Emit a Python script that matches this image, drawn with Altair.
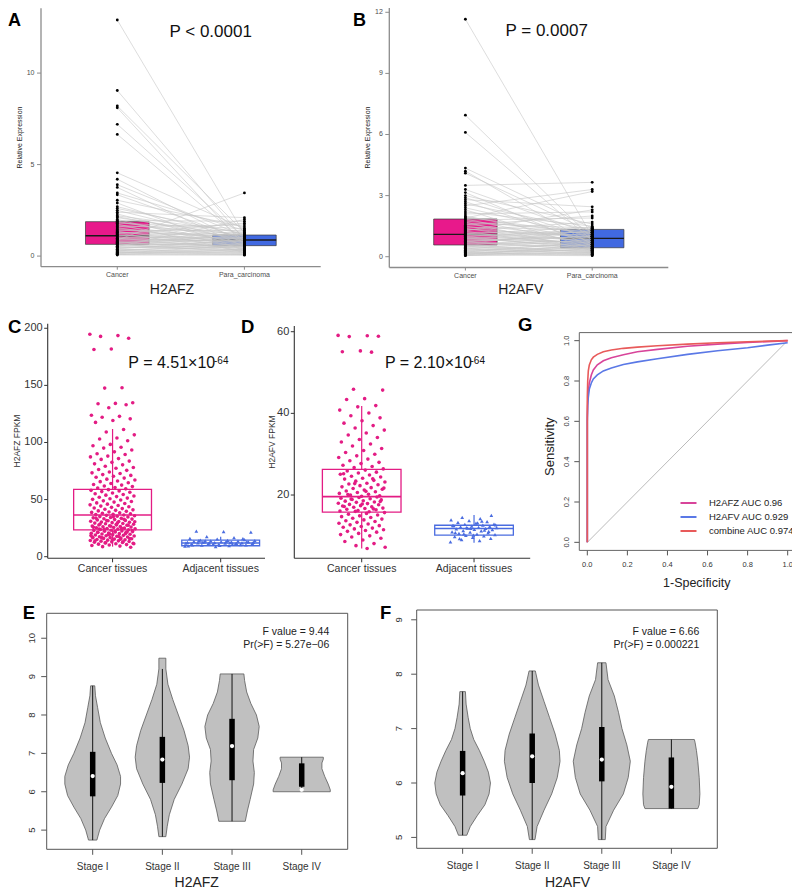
import altair as alt
import pandas as pd

FONT = "Liberation Sans"
W, H = 784, 880

# ---------------- data: panel A (H2AFZ, paired qPCR) ----------------
A_CANCER = [12.9, 9.05, 8.2, 8.1, 7.2, 6.65, 4.55, 4.2, 3.9, 3.75,
            3.45, 3.35, 3.05, 2.9, 2.7, 2.6, 2.5, 2.4, 2.3, 2.2,
            2.15, 2.1, 2.0, 1.95, 1.9, 1.85, 1.8, 1.75, 1.7, 1.65,
            1.6, 1.55, 1.5, 1.45, 1.4, 1.35, 1.3, 1.25, 1.2, 1.15,
            1.12, 1.1, 1.05, 1.0, 0.98, 0.95, 0.9, 0.88, 0.85, 0.8,
            0.78, 0.75, 0.72, 0.7, 0.66, 0.64, 0.6, 0.57, 0.54, 0.5,
            0.47, 0.44, 0.4, 0.37, 0.34, 0.31, 0.28, 0.25, 0.22, 0.2,
            0.18, 0.15, 0.13, 0.1, 0.08, 0.06, 0.52, 0.93, 1.32, 0.71]
A_PARA = [1.2, 0.9, 1.3, 0.6, 1.0, 0.8, 1.5, 0.7, 1.1, 0.5,
          1.4, 0.9, 1.6, 0.3, 1.0, 1.2, 0.8, 2.1, 0.6, 1.3,
          0.9, 1.1, 0.4, 1.9, 0.7, 1.0, 1.5, 0.2, 1.2, 0.8,
          1.7, 0.6, 1.0, 0.9, 1.4, 0.5, 1.1, 0.3, 1.8, 0.7,
          0.95, 1.3, 0.6, 1.0, 0.4, 1.2, 0.8, 3.45, 0.5, 1.05,
          0.3, 0.9, 0.7, 1.15, 0.2, 0.6, 1.0, 0.45, 0.8, 0.35,
          0.65, 0.55, 0.9, 0.25, 0.5, 0.15, 0.7, 0.4, 0.1, 0.3,
          0.2, 0.6, 0.12, 0.08, 0.35, 0.05, 2.0, 0.85, 0.75, 0.55]
A_Q1 = [0.64, 0.57]
A_MED = [1.11, 0.88]
A_Q3 = [1.88, 1.15]
A_YTICKS = [0, 5, 10]

# ---------------- data: panel B (H2AFV, paired qPCR) ----------------
B_CANCER = [11.66, 6.95, 6.1, 4.35, 4.2, 4.1, 3.5, 3.3, 3.15, 3.0,
            2.9, 2.8, 2.7, 2.6, 2.5, 2.4, 2.3, 2.2, 2.1, 2.0,
            1.95, 1.9, 1.85, 1.8, 1.75, 1.7, 1.65, 1.6, 1.55, 1.5,
            1.45, 1.4, 1.35, 1.3, 1.25, 1.2, 1.15, 1.12, 1.1, 1.05,
            1.0, 0.97, 0.94, 0.9, 0.87, 0.84, 0.8, 0.77, 0.74, 0.7,
            0.67, 0.64, 0.6, 0.58, 0.55, 0.52, 0.5, 0.47, 0.44, 0.41,
            0.38, 0.35, 0.32, 0.3, 0.27, 0.24, 0.22, 0.2, 0.18, 0.16,
            0.14, 0.12, 0.1, 0.08, 0.06, 0.05, 1.08, 0.92, 1.28, 0.76]
B_PARA = [1.0, 0.9, 0.8, 1.4, 0.6, 1.2, 3.65, 1.1, 0.5, 1.6,
          0.9, 2.45, 0.7, 1.3, 3.3, 1.0, 0.4, 1.5, 2.2, 0.8,
          1.1, 3.2, 0.6, 1.9, 1.2, 0.3, 1.4, 0.9, 2.0, 0.7,
          1.3, 0.5, 1.0, 1.7, 0.4, 1.2, 0.8, 1.45, 0.6, 1.1,
          0.35, 1.35, 0.9, 0.5, 1.25, 0.7, 1.0, 0.3, 1.15, 0.6,
          0.45, 1.3, 0.8, 0.2, 1.05, 0.55, 0.25, 0.95, 0.4, 0.15,
          0.85, 0.3, 0.65, 0.2, 0.5, 0.1, 0.75, 0.35, 0.12, 0.45,
          0.08, 0.25, 0.6, 0.05, 0.18, 0.4, 1.2, 0.7, 2.3, 1.0]
B_Q1 = [0.575, 0.44]
B_MED = [1.10, 0.90]
B_Q3 = [1.85, 1.34]
B_YTICKS = [0, 3, 6, 9, 12]
AB_GROUPS = ["Cancer", "Para_carcinoma"]

# ---------------- data: panel C (H2AFZ FPKM) ----------------
C_CANCER = [194.8, 193.6, 192.9, 191.2, 181.9, 181.4, 147.9, 147.6, 134.8, 134.2,
            133.9, 133.1, 130.4, 123.8, 122.9, 122.1, 120.7, 119.3, 117.6,
            111.4, 109.2, 106.7, 103.9, 103.1, 101.5, 98.3, 97.2, 95.8, 95.1,
            93.4, 91.8, 90.2, 89.5, 88.1, 87.4, 85.9, 85.2, 83.7, 82.6, 81.3, 80.4,
            79.2, 78.1, 77.5, 76.3, 75.6, 74.2, 73.4, 72.8, 71.9, 71.2, 70.5, 69.6,
            68.8, 67.9, 67.1, 66.3, 65.7, 64.8, 64.1, 63.2, 62.7, 61.9, 61.4, 60.6, 60.1,
            59.4, 58.7, 58.1, 57.6, 57.0, 56.4, 55.8, 55.1, 54.5, 53.9, 53.2, 52.6, 52.0,
            51.3, 50.7, 50.2, 49.6, 48.9, 48.3, 47.8, 47.1, 46.6, 46.0, 45.4, 44.8, 44.3,
            43.7, 43.2, 42.6, 42.1, 41.5, 41.0, 40.6, 40.1, 39.7, 39.2, 38.8, 38.4, 38.0,
            37.6, 37.2, 36.9, 36.5, 36.2,
            35.8, 35.4, 35.1, 34.7, 34.3, 34.0, 33.6, 33.2, 32.9, 32.5, 32.2, 31.8, 31.5,
            31.1, 30.8, 30.4, 30.1, 29.8, 29.4, 29.1, 28.8, 28.4, 28.1, 27.8, 27.5, 27.1,
            26.8, 26.5, 26.2, 25.9, 25.6, 25.3, 25.0, 24.7, 24.4, 24.1, 23.8, 23.5, 23.2, 22.9,
            22.6, 22.3, 22.0, 21.7, 21.4, 21.1, 20.8, 20.5, 20.2, 19.9, 19.6, 19.3, 19.0,
            18.7, 18.4, 18.1, 17.8, 17.5, 17.2, 16.9, 16.6, 16.3, 16.0, 15.7, 15.4, 15.1,
            14.8, 14.5, 14.2, 13.9, 13.6, 13.3, 13.0, 12.7, 12.4, 12.1, 11.8, 11.4, 11.0,
            10.6, 10.2, 9.8, 9.3, 8.8, 8.3,
            34.9, 33.8, 32.7, 31.6, 30.6, 29.6, 28.6, 27.6, 26.6, 25.7, 24.8, 23.9, 23.0,
            22.1, 21.2, 20.3, 19.4, 18.5, 17.6, 16.7, 15.8, 14.9, 14.0, 13.1, 12.2, 11.3,
            27.9, 24.3, 21.9, 19.8, 17.1, 15.3]
C_ADJ = [9.2, 9.6, 10.1, 10.4, 10.8, 11.0, 11.3, 11.5, 11.7, 11.9, 12.0, 12.2, 12.4,
         12.5, 12.7, 12.9, 13.0, 13.2, 13.4, 13.6, 13.8, 14.0, 14.3, 14.6, 15.0, 15.5,
         16.1, 16.8, 17.5, 21.5, 22.0, 22.4, 10.6, 11.2, 11.8, 12.3, 12.8, 13.3, 9.9,
         10.3, 11.6, 12.1, 12.6, 13.1, 14.1, 15.8, 8.9, 9.5, 10.9, 13.9]
C_LOW = [8.8, 8.9]
C_Q1 = [23.4, 9.6]
C_MED = [36.5, 12.0]
C_Q3 = [59.0, 14.6]
C_HIGH = [111.8, 17.5]
C_YTICKS = [0, 50, 100, 150, 200]
CD_GROUPS = ["Cancer tissues", "Adjacent tissues"]

# ---------------- data: panel D (H2AFV FPKM) ----------------
D_CANCER = [59.1, 59.0, 58.8, 58.9, 55.3, 55.1, 55.0, 45.9, 45.7, 43.6, 43.4,
            41.9, 41.6, 40.8, 40.1, 39.4, 38.9, 38.2, 37.6, 37.0, 36.4, 35.9, 35.2,
            34.7, 34.1, 33.6, 33.0, 32.5, 32.0, 31.4, 30.9, 30.4, 30.0,
            29.6, 29.2, 28.8, 28.4, 28.0, 27.7, 27.3, 27.0, 26.7, 26.4,
            26.1, 25.9, 25.6, 25.4, 25.1, 24.9, 24.6, 24.4, 24.1, 23.9, 23.6, 23.4,
            23.2, 22.9, 22.7, 22.5, 22.3, 22.0, 21.8, 21.6, 21.4, 21.2, 21.0, 20.8,
            20.6, 20.4, 20.2, 20.0, 19.8, 19.7, 25.2, 24.0, 22.8, 21.7, 20.9, 20.1,
            19.5, 19.4, 19.2, 19.1, 18.9, 18.8, 18.6, 18.5, 18.3, 18.2, 18.0, 17.9,
            17.7, 17.6, 17.4, 17.3, 17.1, 17.0, 16.8, 16.7, 16.5, 16.4, 16.2, 16.1,
            15.9, 19.0, 18.4, 17.8, 17.2, 16.6, 16.0,
            15.7, 15.5, 15.3, 15.1, 14.9, 14.7, 14.5, 14.3, 14.1, 13.9, 13.7, 13.5,
            13.3, 13.1, 12.9, 12.7, 12.5, 12.3, 12.1, 11.9, 11.7, 11.5, 11.3, 11.1,
            10.9, 10.6, 10.3, 10.0, 9.7, 9.4, 9.0, 8.6, 8.1, 7.6, 7.2, 6.9]
D_ADJ = [8.5, 8.8, 9.1, 9.4, 9.6, 9.8, 10.0, 10.1, 10.3, 10.4, 10.6, 10.7, 10.9,
         11.0, 11.2, 11.3, 11.5, 11.6, 11.7, 11.8, 11.9, 12.0, 12.1, 12.2, 12.3,
         12.4, 12.5, 12.6, 12.8, 12.9, 13.1, 13.3, 13.5, 13.7, 13.9, 14.2, 14.5,
         15.0, 10.2, 10.8, 11.4, 12.0, 12.7, 13.2, 9.3, 11.1, 11.8, 12.5, 13.6, 10.5]
D_LOW = [6.9, 8.3]
D_Q1 = [15.8, 10.2]
D_MED = [19.6, 11.8]
D_Q3 = [26.3, 12.6]
D_HIGH = [41.8, 15.1]
D_YTICKS = [20, 40, 60]

# ---------------- data: panel G (ROC) ----------------
ROC_LABELS = ["H2AFZ AUC 0.96", "H2AFV AUC 0.929", "combine AUC 0.974"]
ROC_Z_FPR = [0, 0, 0.002, 0.005, 0.01, 0.02, 0.03, 0.05, 0.08, 0.12, 0.18, 0.25, 0.35, 0.5, 0.65, 0.8, 1.0]
ROC_Z_TPR = [0, 0.62, 0.70, 0.75, 0.79, 0.83, 0.855, 0.88, 0.90, 0.915, 0.93, 0.945, 0.957, 0.972, 0.983, 0.991, 1.0]
ROC_V_FPR = [0, 0, 0.002, 0.005, 0.01, 0.02, 0.03, 0.05, 0.08, 0.12, 0.18, 0.25, 0.35, 0.5, 0.65, 0.8, 0.9, 1.0]
ROC_V_TPR = [0, 0.60, 0.68, 0.72, 0.76, 0.79, 0.81, 0.83, 0.85, 0.865, 0.882, 0.895, 0.91, 0.932, 0.95, 0.965, 0.978, 0.99]
ROC_C_FPR = [0, 0, 0.002, 0.005, 0.01, 0.02, 0.03, 0.05, 0.08, 0.12, 0.18, 0.25, 0.35, 0.5, 0.65, 0.8, 1.0]
ROC_C_TPR = [0, 0.72, 0.80, 0.85, 0.88, 0.905, 0.918, 0.932, 0.945, 0.954, 0.962, 0.968, 0.975, 0.983, 0.99, 0.995, 1.0]
G_TICKS = [0, 0.2, 0.4, 0.6, 0.8, 1.0]
G_TICKLABELS = ["0.0", "0.2", "0.4", "0.6", "0.8", "1.0"]

# ---------------- data: panels E/F (violins by stage) ----------------
STAGES = ["Stage I", "Stage II", "Stage III", "Stage IV"]
E_S1_V = [4.74, 5.0, 5.3, 5.6, 5.9, 6.2, 6.4, 6.7, 7.0, 7.4, 7.8, 8.2, 8.5, 8.76]
E_S1_W = [0.06, 0.10, 0.17, 0.27, 0.36, 0.40, 0.40, 0.35, 0.27, 0.18, 0.11, 0.07, 0.04, 0.03]
E_S2_V = [4.83, 5.1, 5.4, 5.8, 6.2, 6.6, 6.9, 7.2, 7.6, 8.0, 8.4, 8.8, 9.2, 9.48]
E_S2_W = [0.05, 0.07, 0.10, 0.17, 0.28, 0.37, 0.39, 0.37, 0.31, 0.23, 0.15, 0.08, 0.05, 0.05]
E_S3_V = [5.23, 5.5, 5.8, 6.2, 6.5, 6.8, 7.1, 7.4, 7.7, 8.0, 8.3, 8.6, 8.9, 9.07]
E_S3_W = [0.19, 0.22, 0.26, 0.31, 0.32, 0.30, 0.31, 0.37, 0.39, 0.35, 0.27, 0.21, 0.18, 0.17]
E_S4_V = [6.0, 6.05, 6.2, 6.4, 6.6, 6.75, 6.85, 6.9]
E_S4_W = [0.41, 0.41, 0.38, 0.33, 0.29, 0.29, 0.31, 0.31]
E_WLO = [4.74, 4.83, 5.23, 6.0]
E_WHI = [8.76, 9.2, 9.07, 6.9]
E_Q1 = [5.88, 6.23, 6.3, 6.13]
E_Q3 = [7.04, 7.43, 7.9, 6.74]
E_MED = [6.41, 6.84, 7.19, 6.05]
E_YTICKS = [5, 6, 7, 8, 9, 10]

F_S1_V = [5.04, 5.2, 5.4, 5.6, 5.8, 6.0, 6.2, 6.4, 6.6, 6.8, 7.0, 7.2, 7.45, 7.68]
F_S1_W = [0.06, 0.11, 0.21, 0.32, 0.38, 0.40, 0.37, 0.31, 0.24, 0.16, 0.11, 0.08, 0.05, 0.04]
F_S2_V = [4.96, 5.2, 5.5, 5.8, 6.1, 6.4, 6.6, 6.9, 7.2, 7.5, 7.8, 8.06]
F_S2_W = [0.04, 0.07, 0.17, 0.28, 0.36, 0.40, 0.39, 0.33, 0.25, 0.17, 0.09, 0.045]
F_S3_V = [4.96, 5.2, 5.5, 5.8, 6.1, 6.4, 6.7, 7.0, 7.3, 7.6, 7.9, 8.21]
F_S3_W = [0.05, 0.06, 0.17, 0.31, 0.38, 0.41, 0.36, 0.29, 0.24, 0.18, 0.09, 0.06]
F_S4_V = [5.53, 5.6, 5.8, 6.1, 6.4, 6.6, 6.75, 6.8]
F_S4_W = [0.38, 0.40, 0.41, 0.40, 0.38, 0.36, 0.34, 0.33]
F_WLO = [5.04, 4.96, 4.96, 5.53]
F_WHI = [7.68, 8.06, 8.21, 6.80]
F_Q1 = [5.77, 6.0, 6.03, 5.53]
F_Q3 = [6.59, 6.91, 7.03, 6.47]
F_MED = [6.18, 6.49, 6.43, 5.93]
F_YTICKS = [5, 6, 7, 8, 9]

# ---------------- layout (page pixel geometry of each plot area) ----------------
GEOM = {
    "A": {"xd": [0.4, 2.6], "xr": [41, 320.7], "yd": [-0.58, 13.54], "yr": [266.7, 8.3]},
    "B": {"xd": [0.4, 2.6], "xr": [389.3, 668.3], "yd": [-0.53, 12.24], "yr": [267.5, 7.4]},
    "C": {"xd": [0.4, 2.41], "xr": [47.7, 265], "yd": [-1.4, 204], "yr": [558.3, 323.7]},
    "D": {"xd": [0.4, 2.5], "xr": [294.3, 530.2], "yd": [4.5, 61.4], "yr": [558.3, 326]},
    "G": {"xd": [-0.04, 1.04], "xr": [579.3, 795.7], "yd": [-0.04, 1.04], "yr": [550.4, 332.6]},
    "E": {"xd": [0.34, 4.66], "xr": [46.7, 347.7], "yd": [4.5, 10.65], "yr": [849.3, 613.3]},
    "F": {"xd": [0.34, 4.66], "xr": [416.7, 717.3], "yd": [4.8, 9.18], "yr": [848.3, 610]},
}

PINK_BOX = "#E8198B"
BLUE_BOX = "#4169E1"
PINK_PT = "#E31C84"
BLUE_PT = "#4A6CE0"
ROC_COLORS = ["#D8449A", "#5A78E6", "#E85A5A"]

STYLE_GG = {"domain": True, "line": "#8c8c8c", "dw": 1.3, "ytick": 4, "xtick": 3, "yfs": 7, "xfs": 7,
            "lab": "#4d4d4d", "ypad": 2.5, "xpad": 1.5, "rot": False}
STYLE_CD = {"domain": True, "line": "#333333", "dw": 1.1, "ytick": 3.5, "xtick": 4, "yfs": 11, "xfs": 10.5,
            "lab": "#333333", "ypad": 1.5, "xpad": 1.5, "rot": False}
STYLE_R = {"domain": False, "line": "#555555", "dw": 1, "ytick": 5.5, "xtick": 5.5, "yfs": 9.5, "xfs": 10,
           "lab": "#333333", "ypad": 4.5, "xpad": 7, "rot": True}


def px(v):
    return round(v - 8, 2)


def xs(p):
    g = GEOM[p]
    return alt.Scale(domain=g["xd"], range=[px(g["xr"][0]), px(g["xr"][1])], nice=False, zero=False)


def ys(p):
    g = GEOM[p]
    return alt.Scale(domain=g["yd"], range=[px(g["yr"][0]), px(g["yr"][1])], nice=False, zero=False)


def X(field, p):
    return alt.X(field, type="quantitative", scale=xs(p), axis=None)


def Y(field, p):
    return alt.Y(field, type="quantitative", scale=ys(p), axis=None)


def jitter(n, spread):
    return [((i * 0.6180339887) % 1.0 - 0.5) * 2 * spread for i in range(n)]


ONE = pd.DataFrame({"k": [0]})


def txt(s, x, y, size, weight="normal", align="left", color="black", baseline="alphabetic", angle=0):
    return alt.Chart(ONE).mark_text(text=s, fontSize=size, fontWeight=weight, align=align,
                                    baseline=baseline, font=FONT, color=color, angle=angle).encode(
        x=alt.value(px(x)), y=alt.value(px(y)))


def axis_marks(p, xvals, xlabs, yvals, ylabs, st, ylabel_pad=None):
    g = GEOM[p]
    x0, x1 = g["xd"]
    y0, y1 = g["yd"]
    out = []
    if st["domain"]:
        dom = pd.DataFrame({"xa": [x0, x0], "xb": [x0, x1], "ya": [y0, y0], "yb": [y1, y0]})
        out.append(alt.Chart(dom).mark_rule(color=st["line"], strokeWidth=st["dw"]).encode(
            x=X("xa", p), x2="xb", y=Y("ya", p), y2="yb"))
    yt = pd.DataFrame({"x": [x0] * len(yvals), "v": yvals, "lab": ylabs})
    xt = pd.DataFrame({"y": [y0] * len(xvals), "v": xvals, "lab": xlabs})
    out.append(alt.Chart(yt).mark_rule(color=st["line"], strokeWidth=1, xOffset=-st["ytick"], x2Offset=0).encode(
        x=X("x", p), x2="x", y=Y("v", p)))
    out.append(alt.Chart(xt).mark_rule(color=st["line"], strokeWidth=1, yOffset=0, y2Offset=st["xtick"]).encode(
        x=X("v", p), y=Y("y", p), y2="y"))
    ypad = st["ypad"] if ylabel_pad is None else ylabel_pad
    if st["rot"]:
        ymark = alt.Chart(yt).mark_text(font=FONT, fontSize=st["yfs"], color=st["lab"], angle=270,
                                        align="center", baseline="bottom",
                                        xOffset=-(st["ytick"] + ypad))
    else:
        ymark = alt.Chart(yt).mark_text(font=FONT, fontSize=st["yfs"], color=st["lab"],
                                        align="right", baseline="middle",
                                        xOffset=-(st["ytick"] + ypad))
    out.append(ymark.encode(x=X("x", p), y=Y("v", p), text=alt.Text("lab:N")))
    out.append(alt.Chart(xt).mark_text(font=FONT, fontSize=st["xfs"], color=st["lab"], align="center",
                                       baseline="top", yOffset=st["xtick"] + st["xpad"]).encode(
        x=X("v", p), y=Y("y", p), text=alt.Text("lab:N")))
    return out


# ---------------- panels ----------------
def paired_panel(p, cancer, para, q1, med, q3, yvals):
    n = len(cancer)
    pairs = pd.DataFrame({"xa": [1] * n, "xb": [2] * n, "ya": cancer, "yb": para})
    pts = pd.DataFrame({"x": [1] * n + [2] * n, "v": list(cancer) + list(para)})
    box = pd.DataFrame({"x0": [0.75, 1.75], "x1": [1.25, 2.25], "q1": q1, "med": med, "q3": q3,
                        "fill": [PINK_BOX, BLUE_BOX]})
    axes = axis_marks(p, [1, 2], AB_GROUPS, yvals, [str(v) for v in yvals], STYLE_GG)
    boxes = alt.Chart(box).mark_rect(stroke="#3a3a3a", strokeWidth=0.7).encode(
        x=X("x0", p), x2="x1", y=Y("q1", p), y2="q3", fill=alt.Fill("fill:N", scale=None))
    meds = alt.Chart(box).mark_rule(color="#1a1a1a", strokeWidth=1.3).encode(
        x=X("x0", p), x2="x1", y=Y("med", p))
    lines = alt.Chart(pairs).mark_rule(color="#c6c6c6", strokeWidth=0.6).encode(
        x=X("xa", p), x2="xb", y=Y("ya", p), y2="yb")
    dots = alt.Chart(pts).mark_circle(size=8, color="black", opacity=1).encode(
        x=X("x", p), y=Y("v", p))
    return alt.layer(*axes, boxes, meds, lines, dots)


def jitter_panel(p, cancer, adj, low, q1, med, q3, high, yvals, sc, sa, hw):
    pc = pd.DataFrame({"x": [1 + j for j in jitter(len(cancer), sc)], "v": cancer})
    pa = pd.DataFrame({"x": [2 + j for j in jitter(len(adj), sa)], "v": adj})
    box = pd.DataFrame({"xc": [1, 2], "x0": [1 - hw, 2 - hw], "x1": [1 + hw, 2 + hw],
                        "lo": low, "q1": q1, "med": med, "q3": q3, "hi": high,
                        "col": [PINK_PT, BLUE_PT]})
    col = alt.Color("col:N", scale=None)
    axes = axis_marks(p, [1, 2], CD_GROUPS, yvals, [str(v) for v in yvals], STYLE_CD)
    wl = alt.Chart(box).mark_rule(strokeWidth=1.2).encode(x=X("xc", p), y=Y("lo", p), y2="q1", color=col)
    wh = alt.Chart(box).mark_rule(strokeWidth=1.2).encode(x=X("xc", p), y=Y("q3", p), y2="hi", color=col)
    rect = alt.Chart(box).mark_rect(filled=False, strokeWidth=1.3).encode(
        x=X("x0", p), x2="x1", y=Y("q1", p), y2="q3", color=col)
    md = alt.Chart(box).mark_rule(strokeWidth=1.6).encode(x=X("x0", p), x2="x1", y=Y("med", p), color=col)
    dc = alt.Chart(pc).mark_circle(size=13, color=PINK_PT, opacity=1).encode(x=X("x", p), y=Y("v", p))
    da = alt.Chart(pa).mark_point(shape="triangle-up", filled=True, size=14, color=BLUE_PT, opacity=1).encode(
        x=X("x", p), y=Y("v", p))
    return alt.layer(*axes, wl, wh, rect, md, dc, da)


def frame_chart(p, color):
    g = GEOM[p]
    fr = pd.DataFrame({"x0": [g["xd"][0]], "x1": [g["xd"][1]], "y0": [g["yd"][0]], "y1": [g["yd"][1]]})
    return alt.Chart(fr).mark_rect(filled=False, color=color, strokeWidth=1).encode(
        x=X("x0", p), x2="x1", y=Y("y0", p), y2="y1")


def violin_panel(p, profiles, wlo, whi, q1, q3, med, yvals, ypad):
    rows = []
    for s, (vals, ws) in enumerate(profiles, start=1):
        for v, w in zip(vals, ws):
            rows.append({"stage": s, "value": v, "lo": s - w, "hi": s + w})
    vdf = pd.DataFrame(rows)
    sdf = pd.DataFrame({"pos": [1, 2, 3, 4], "wlo": wlo, "whi": whi, "q1": q1, "q3": q3, "med": med})
    axes = axis_marks(p, [1, 2, 3, 4], STAGES, yvals, [str(v) for v in yvals], STYLE_R, ylabel_pad=ypad)
    vio = alt.Chart(vdf).mark_area(orient="horizontal", color="#C0C0C0", stroke="#5a5a5a",
                                   strokeWidth=0.8, opacity=1).encode(
        y=Y("value", p), x=X("lo", p), x2="hi", detail="stage:N")
    wk = alt.Chart(sdf).mark_rule(color="black", strokeWidth=0.9).encode(x=X("pos", p), y=Y("wlo", p), y2="whi")
    bx = alt.Chart(sdf).mark_rule(color="black", strokeWidth=5.5).encode(x=X("pos", p), y=Y("q1", p), y2="q3")
    md = alt.Chart(sdf).mark_circle(color="white", size=18, opacity=1).encode(x=X("pos", p), y=Y("med", p))
    return alt.layer(*axes, vio, wk, bx, md, frame_chart(p, "#555555"))


def roc_panel(p):
    rows = []
    for lab, fx, ty in zip(ROC_LABELS, [ROC_Z_FPR, ROC_V_FPR, ROC_C_FPR], [ROC_Z_TPR, ROC_V_TPR, ROC_C_TPR]):
        for i, (a, b) in enumerate(zip(fx, ty)):
            rows.append({"series": lab, "idx": i, "fpr": a, "tpr": b})
    rdf = pd.DataFrame(rows)
    st = dict(STYLE_R, yfs=7.5, xfs=7.5, ytick=5, xtick=5, xpad=5.2)
    axes = axis_marks(p, G_TICKS, G_TICKLABELS, G_TICKS, G_TICKLABELS, st, ylabel_pad=3.5)
    diag = alt.Chart(pd.DataFrame({"a": [0], "b": [1]})).mark_rule(color="#BBBBBB", strokeWidth=1).encode(
        x=X("a", p), x2="b", y=Y("a", p), y2="b")
    curves = alt.Chart(rdf).mark_line(strokeWidth=1.6).encode(
        x=X("fpr", p), y=Y("tpr", p), order=alt.Order("idx:Q"),
        color=alt.Color("series:N", scale=alt.Scale(domain=ROC_LABELS, range=ROC_COLORS),
                        legend=alt.Legend(orient="none", legendX=671.5, legendY=486, title=None,
                                          symbolType="stroke", symbolSize=256, symbolStrokeWidth=2,
                                          labelFont=FONT, labelFontSize=9.5, labelColor="#222222",
                                          labelOffset=11.5, rowPadding=-2, padding=0)))
    return alt.layer(*axes, diag, curves, frame_chart(p, "#666666"))


panel_a = paired_panel("A", A_CANCER, A_PARA, A_Q1, A_MED, A_Q3, A_YTICKS)
panel_b = paired_panel("B", B_CANCER, B_PARA, B_Q1, B_MED, B_Q3, B_YTICKS)
panel_c = jitter_panel("C", C_CANCER, C_ADJ, C_LOW, C_Q1, C_MED, C_Q3, C_HIGH, C_YTICKS, 0.21, 0.33, 0.36)
panel_d = jitter_panel("D", D_CANCER, D_ADJ, D_LOW, D_Q1, D_MED, D_Q3, D_HIGH, D_YTICKS, 0.21, 0.21, 0.35)
panel_g = roc_panel("G")
panel_e = violin_panel("E", [(E_S1_V, E_S1_W), (E_S2_V, E_S2_W), (E_S3_V, E_S3_W), (E_S4_V, E_S4_W)],
                       E_WLO, E_WHI, E_Q1, E_Q3, E_MED, E_YTICKS, 4.5)
panel_f = violin_panel("F", [(F_S1_V, F_S1_W), (F_S2_V, F_S2_W), (F_S3_V, F_S3_W), (F_S4_V, F_S4_W)],
                       F_WLO, F_WHI, F_Q1, F_Q3, F_MED, F_YTICKS, 7.5)

texts = [
    # panel letters
    txt("A", 8, 25.5, 18, "bold"), txt("B", 353, 25.5, 18, "bold"),
    txt("C", 8, 333, 18.5, "bold"), txt("D", 241, 333, 18.5, "bold"),
    txt("G", 518, 331, 18.5, "bold"), txt("E", 22.7, 619, 18.5, "bold"),
    txt("F", 380, 619, 18.5, "bold"),
    # axis titles
    txt("H2AFZ", 172, 290, 14, align="center", baseline="middle", color="#1a1a1a"),
    txt("H2AFV", 520.7, 290, 14, align="center", baseline="middle", color="#1a1a1a"),
    txt("Relative Expression", 19.5, 137.5, 7, align="center", baseline="middle", color="#1a1a1a", angle=270),
    txt("Relative Expression", 367.8, 137.5, 7, align="center", baseline="middle", color="#1a1a1a", angle=270),
    txt("H2AFZ FPKM", 17, 441, 8.5, align="center", baseline="middle", color="#333333", angle=270),
    txt("H2AFV FPKM", 271.7, 442, 8.5, align="center", baseline="middle", color="#333333", angle=270),
    txt("Sensitivity", 550, 446.7, 13, align="center", baseline="middle", color="#222222", angle=270),
    txt("1-Specificity", 696.7, 583.3, 12.5, align="center", baseline="middle", color="#222222"),
    txt("H2AFZ", 196.7, 882.5, 14, align="center", baseline="middle", color="#222222"),
    txt("H2AFV", 567.5, 882.5, 14, align="center", baseline="middle", color="#222222"),
    # statistics
    txt("P < 0.0001", 210.7, 36.7, 17, align="center", color="#111111"),
    txt("P = 0.0007", 546.7, 36, 17, align="center", color="#111111"),
    txt("P = 4.51\u00d710", 128.3, 368.3, 16, color="#111111"),
    txt("-64", 214, 364, 10, color="#111111"),
    txt("P = 2.10\u00d710", 385, 368.3, 16, color="#111111"),
    txt("-64", 470.5, 364, 10, color="#111111"),
    txt("F value = 9.44", 329.3, 635, 10.5, align="right", color="#222222"),
    txt("Pr(>F) = 5.27e\u221206", 329.3, 647.7, 10.5, align="right", color="#222222"),
    txt("F value = 6.66", 699.3, 635, 10.5, align="right", color="#222222"),
    txt("Pr(>F) = 0.000221", 699.3, 648.3, 10.5, align="right", color="#222222"),
]

chart = alt.layer(panel_a, panel_b, panel_c, panel_d, panel_g, panel_e, panel_f, *texts).resolve_scale(
    x="independent", y="independent"
).properties(
    width=W, height=H, padding=0, autosize=alt.AutoSizeParams(type="none")
).configure(font=FONT).configure_view(stroke=None)

chart.save("out.html", embed_options={"renderer": "svg", "actions": False})
